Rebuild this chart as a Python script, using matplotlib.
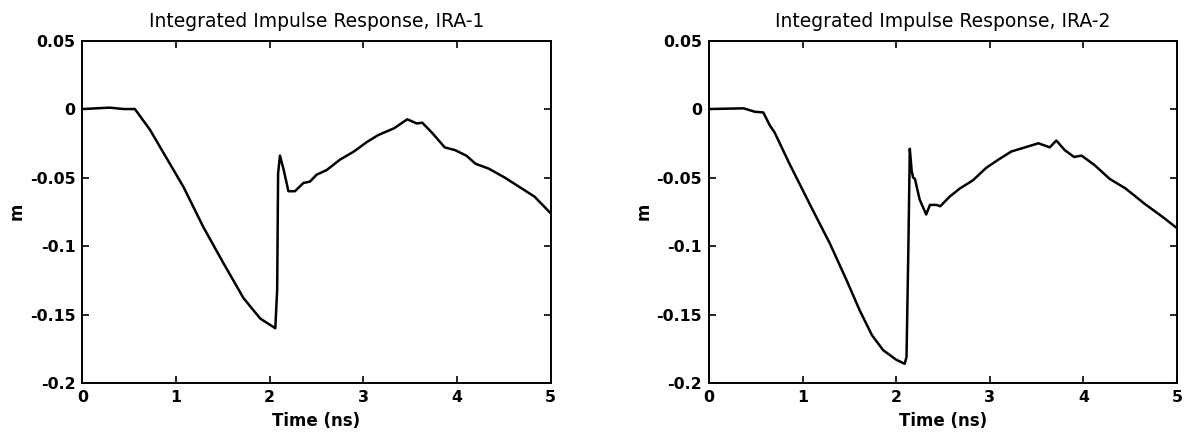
import numpy as np
import matplotlib.pyplot as plt

plt.rcParams['font.family'] = ['DejaVu Sans']

# IRA-1 integrated impulse response (time in ns, value in m)
t1 = [0.0, 0.29, 0.44, 0.56, 0.72, 0.90, 1.08, 1.29, 1.51, 1.72, 1.90, 2.06,
      2.08, 2.09, 2.11, 2.15, 2.20, 2.27, 2.36, 2.43, 2.50, 2.61, 2.75, 2.90,
      3.04, 3.16, 3.33, 3.47, 3.57, 3.63, 3.73, 3.87, 3.98, 4.10, 4.20, 4.34,
      4.51, 4.67, 4.83, 5.0]
m1 = [0.0, 0.001, 0.0, 0.0, -0.015, -0.036, -0.057, -0.086, -0.113, -0.138,
      -0.153, -0.160, -0.132, -0.047, -0.034, -0.0445, -0.060, -0.060, -0.054,
      -0.053, -0.048, -0.0445, -0.037, -0.031, -0.024, -0.019, -0.014, -0.0075,
      -0.0105, -0.010, -0.017, -0.028, -0.030, -0.034, -0.040, -0.0435, -0.050,
      -0.057, -0.064, -0.076]

# IRA-2 integrated impulse response
t2 = [0.0, 0.37, 0.49, 0.58, 0.65, 0.70, 0.86, 1.11, 1.29, 1.47, 1.61, 1.74,
      1.86, 2.00, 2.09, 2.11, 2.13, 2.145, 2.165, 2.18, 2.20, 2.25, 2.32, 2.36,
      2.43, 2.47, 2.57, 2.68, 2.82, 2.96, 3.09, 3.23, 3.52, 3.64, 3.71, 3.80,
      3.90, 3.98, 4.12, 4.28, 4.45, 4.65, 4.85, 5.0]
m2 = [0.0, 0.0005, -0.002, -0.0025, -0.012, -0.017, -0.040, -0.074, -0.098,
      -0.125, -0.147, -0.165, -0.176, -0.183, -0.186, -0.181, -0.100, -0.029,
      -0.045, -0.050, -0.051, -0.066, -0.077, -0.070, -0.070, -0.071, -0.064,
      -0.058, -0.052, -0.043, -0.037, -0.031, -0.025, -0.028, -0.023, -0.030,
      -0.035, -0.034, -0.041, -0.051, -0.058, -0.069, -0.079, -0.087]

titles = ["Integrated Impulse Response, IRA-1", "Integrated Impulse Response, IRA-2"]
xticks = [0, 1, 2, 3, 4, 5]
yticks = [0.05, 0, -0.05, -0.1, -0.15, -0.2]
yticklabels = ["0.05", "0", "-0.05", "-0.1", "-0.15", "-0.2"]

fig = plt.figure(figsize=(11.88, 4.41), dpi=100)
lefts = [0.0694, 0.5968]
series = [(t1, m1), (t2, m2)]

for left, (t, m), title in zip(lefts, series, titles):
    ax = fig.add_axes([left, 0.1315, 0.394, 0.7766])
    ax.plot(t, m, color='black', linewidth=1.8)
    ax.set_xlim(0, 5)
    ax.set_ylim(-0.2, 0.05)
    ax.set_xticks(xticks)
    ax.set_xticklabels([str(x) for x in xticks], fontsize=11.3, fontweight='bold')
    ax.set_yticks(yticks)
    ax.set_yticklabels(yticklabels, fontsize=11.3, fontweight='bold')
    ax.tick_params(direction='in', length=5, width=1.2, top=True, right=True)
    ax.tick_params(axis='x', pad=5)
    ax.tick_params(axis='y', pad=5)
    for sp in ax.spines.values():
        sp.set_linewidth(1.4)
    ax.set_xlabel("Time (ns)", fontsize=12, fontweight='bold', labelpad=5)
    ax.set_ylabel("m", fontsize=12, fontweight='bold', labelpad=3)
    ax.set_title(title, fontsize=13.5, pad=10)

plt.savefig("out.png", dpi=100)
